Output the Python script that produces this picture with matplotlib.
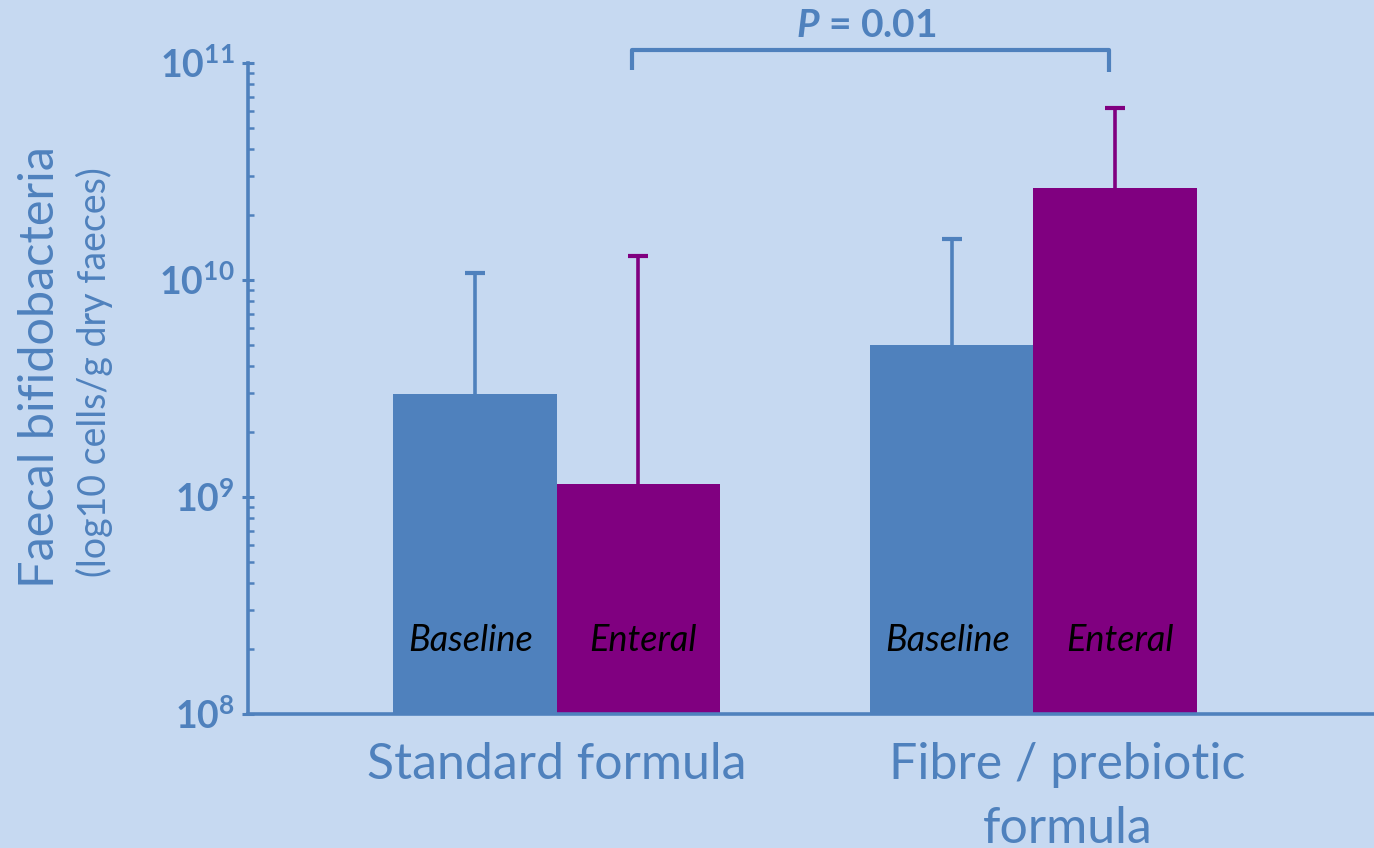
import numpy as np
import matplotlib
matplotlib.use("Agg")
import matplotlib.pyplot as plt
import matplotlib.transforms as mtransforms
from matplotlib.ticker import LogLocator, NullFormatter

# faecal bifidobacteria, cells/g dry faeces (bar value and top of SD whisker)
groups = ['Standard formula', 'Fibre / prebiotic\nformula']
baseline = [2.98e9, 5.02e9]
baseline_upper = [1.08e10, 1.55e10]
enteral = [1.15e9, 2.65e10]
enteral_upper = [1.29e10, 6.2e10]
bar_labels = ['Baseline', 'Enteral']
p_text = r'$\boldsymbol{P}$ = 0.01'

BLUE = '#4F81BD'
PURPLE = '#800080'
BG = '#C6D9F1'

plt.rcParams['font.family'] = ['Lato', 'DejaVu Sans']
plt.rcParams['mathtext.fontset'] = 'custom'
plt.rcParams['mathtext.rm'] = 'Lato'
plt.rcParams['mathtext.bf'] = 'Lato:bold'
plt.rcParams['mathtext.it'] = 'Lato:italic'
plt.rcParams['mathtext.bfit'] = 'Lato:bold:italic'

fig = plt.figure(figsize=(13.74, 8.48), dpi=100, facecolor=BG)
ax = fig.add_axes([0.1805, 0.158, 0.8195, 0.7677])
ax.set_facecolor(BG)

ymin, ymax = 1e8, 1e11
x = np.arange(len(groups))
w = 0.342

base = np.array(baseline)
ent = np.array(enteral)
xb = x - w / 2
xe = x + w / 2

ax.bar(xb, base - ymin, bottom=ymin, width=w, color=BLUE, zorder=2)
ax.bar(xe, ent - ymin, bottom=ymin, width=w, color=PURPLE, zorder=2)

# upper whiskers only
err_kw = dict(fmt='none', elinewidth=2.6, capsize=7, capthick=3, zorder=3)
for xs, vals, upper, col in [(xb, base, baseline_upper, BLUE),
                             (xe, ent, enteral_upper, PURPLE)]:
    _, caps, _ = ax.errorbar(xs, vals, yerr=[np.zeros_like(vals), np.array(upper) - vals],
                             ecolor=col, **err_kw)
    caps[0].set_visible(False)

# italic labels inside the bars
trans = mtransforms.blended_transform_factory(ax.transData, ax.transAxes)
for xi in xb:
    ax.text(xi - 0.01, 0.113, bar_labels[0], transform=trans, ha='center', va='center',
            fontsize=26, style='italic', color='black', zorder=4)
for xi in xe:
    ax.text(xi + 0.01, 0.113, bar_labels[1], transform=trans, ha='center', va='center',
            fontsize=26, style='italic', color='black', zorder=4)

ax.set_yscale('log')
ax.set_ylim(ymin, ymax)
ax.set_xlim(-0.647, 1.714)

ax.yaxis.set_minor_locator(LogLocator(base=10, subs=np.arange(2, 10), numticks=20))
ax.yaxis.set_minor_formatter(NullFormatter())
ax.set_yticks([1e8, 1e9, 1e10, 1e11])
ax.set_yticklabels([r'$\mathbf{10^{8}}$', r'$\mathbf{10^{9}}$',
                    r'$\mathbf{10^{10}}$', r'$\mathbf{10^{11}}$'])
ax.tick_params(axis='y', which='major', direction='inout', length=9, width=2.2,
               color=BLUE, labelcolor=BLUE, labelsize=27, pad=5)
ax.tick_params(axis='y', which='minor', direction='in', length=4.5, width=1.8,
               color=BLUE)

ax.set_xticks(x)
ax.set_xticklabels(groups, fontsize=36, color=BLUE, linespacing=1.5)
ax.tick_params(axis='x', length=0, pad=20)
# nudge the two-line group label to the right
lbl = ax.get_xticklabels()[1]
lbl.set_transform(lbl.get_transform() +
                  mtransforms.ScaledTranslation(34 / 100, 0, fig.dpi_scale_trans))

for s in ['top', 'right']:
    ax.spines[s].set_visible(False)
for s in ['left', 'bottom']:
    ax.spines[s].set_color(BLUE)
    ax.spines[s].set_linewidth(2.6)
    ax.spines[s].set_zorder(5)

# significance bracket between the two enteral bars
bx0, bx1 = xe[0] - 0.012, xe[1] - 0.012
ax.plot([bx0, bx0, bx1, bx1], [0.989, 1.020, 1.020, 0.986], transform=trans,
        color=BLUE, lw=3, clip_on=False, solid_capstyle='butt')
ax.text((bx0 + bx1) / 2 - 0.01, 1.058, p_text, transform=trans, ha='center', va='center',
        fontsize=28, fontweight='bold', color=BLUE)

fig.text(0.029, 0.567, 'Faecal bifidobacteria', rotation=90, ha='center', va='center',
         fontsize=35, color=BLUE)
fig.text(0.069, 0.561, '(log10 cells/g dry faeces)', rotation=90, ha='center',
         va='center', fontsize=27, color=BLUE)

fig.savefig('out.png', dpi=100, facecolor=BG)
